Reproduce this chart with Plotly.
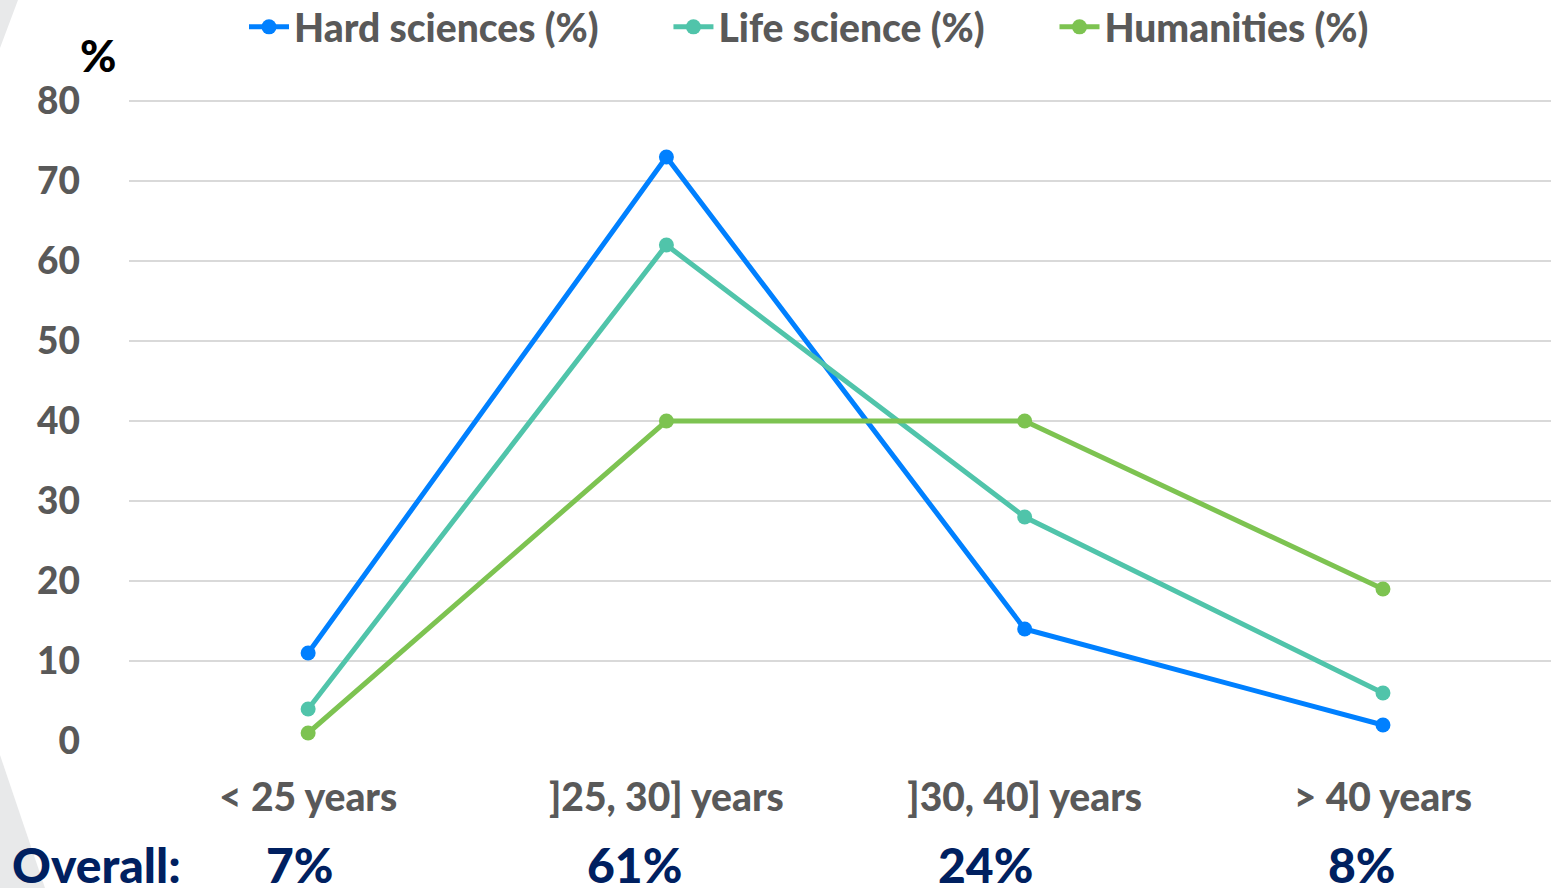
import plotly.graph_objects as go

categories = ["< 25 years", "]25, 30] years", "]30, 40] years", "> 40 years"]
hard_sciences = [11, 73, 14, 2]
life_science = [4, 62, 28, 6]
humanities = [1, 40, 40, 19]
overall = ["7%", "61%", "24%", "8%"]
y_ticks = [0, 10, 20, 30, 40, 50, 60, 70, 80]

series = [
    ("Hard sciences (%)", hard_sciences, "#0080FF"),
    ("Life science (%)", life_science, "#50C4AA"),
    ("Humanities (%)", humanities, "#7DC351"),
]

FONT = "Lato, 'Open Sans', sans-serif"
GRAY = "#595959"
NAVY = "#002060"
WT = 900
GAP = "\u00a0" * 7

fig = go.Figure()
for i, (name, vals, col) in enumerate(series):
    label = name + (GAP if i < len(series) - 1 else "")
    fig.add_trace(go.Scatter(
        x=list(range(len(categories))), y=vals, name=label, mode="lines+markers",
        line=dict(color=col, width=5), marker=dict(color=col, size=15),
    ))

W, H = 1551, 888
L, R, T, B = 129, 0, 99, 147
PW, PH = W - L - R, H - T - B

def px_x(px):
    return (px - L) / PW

def px_y(py):
    return (H - B - py) / PH

fig.update_layout(
    width=W, height=H,
    margin=dict(l=L, r=R, t=T, b=B, autoexpand=False),
    paper_bgcolor="white", plot_bgcolor="white",
    font=dict(family=FONT, color=GRAY),
    showlegend=True,
    legend=dict(orientation="h", x=px_x(809), xanchor="center", y=px_y(27), yanchor="middle",
                font=dict(size=39, family=FONT, color=GRAY, weight=WT),
                itemwidth=40, tracegroupgap=0, bgcolor="rgba(0,0,0,0)"),
    xaxis=dict(range=[-0.5, 3.469], tickmode="array", tickvals=list(range(len(categories))),
               ticktext=categories, showgrid=False, zeroline=False, showline=False,
               tickfont=dict(size=39, family=FONT, color=GRAY, weight=WT),
               ticks="", ticklabelstandoff=30, automargin=False),
    yaxis=dict(range=[0, 80.25], tickmode="array", tickvals=y_ticks, showgrid=True,
               gridcolor="#D9D9D9", gridwidth=2, zeroline=False, showline=False,
               tickfont=dict(size=37, family=FONT, color=GRAY, weight=WT),
               ticks="", ticklabelstandoff=48, automargin=False),
)

# decorative light grey background wedges on the left edge
fig.add_shape(type="path", xref="paper", yref="paper",
              path=f"M {px_x(0)} {px_y(0)} L {px_x(18)} {px_y(0)} L {px_x(0)} {px_y(48)} Z",
              fillcolor="#E8E9EA", line_width=0, layer="below")
fig.add_shape(type="path", xref="paper", yref="paper",
              path=f"M {px_x(0)} {px_y(755)} L {px_x(45)} {px_y(888)} L {px_x(0)} {px_y(888)} Z",
              fillcolor="#E8E9EA", line_width=0, layer="below")

# "%" axis label
fig.add_annotation(text="%", xref="paper", yref="paper", x=px_x(98), y=px_y(55),
                   xanchor="center", yanchor="middle",
                   showarrow=False, font=dict(size=44, family=FONT, color="black", weight=WT))

# Overall row
fig.add_annotation(text="Overall:", xref="paper", yref="paper", x=px_x(10), y=px_y(864),
                   xanchor="left", yanchor="middle", showarrow=False,
                   font=dict(size=48, family=FONT, color=NAVY, weight=WT))
overall_px = [300, 634, 985, 1362]
for txt, px in zip(overall, overall_px):
    fig.add_annotation(text=txt, xref="paper", yref="paper", x=px_x(px), y=px_y(864),
                       xanchor="center", yanchor="middle", showarrow=False,
                       font=dict(size=48, family=FONT, color=NAVY, weight=WT))

fig.write_html("out.html", config={"displayModeBar": False},
               post_script="document.body.style.margin='0';document.body.style.overflow='hidden';")
